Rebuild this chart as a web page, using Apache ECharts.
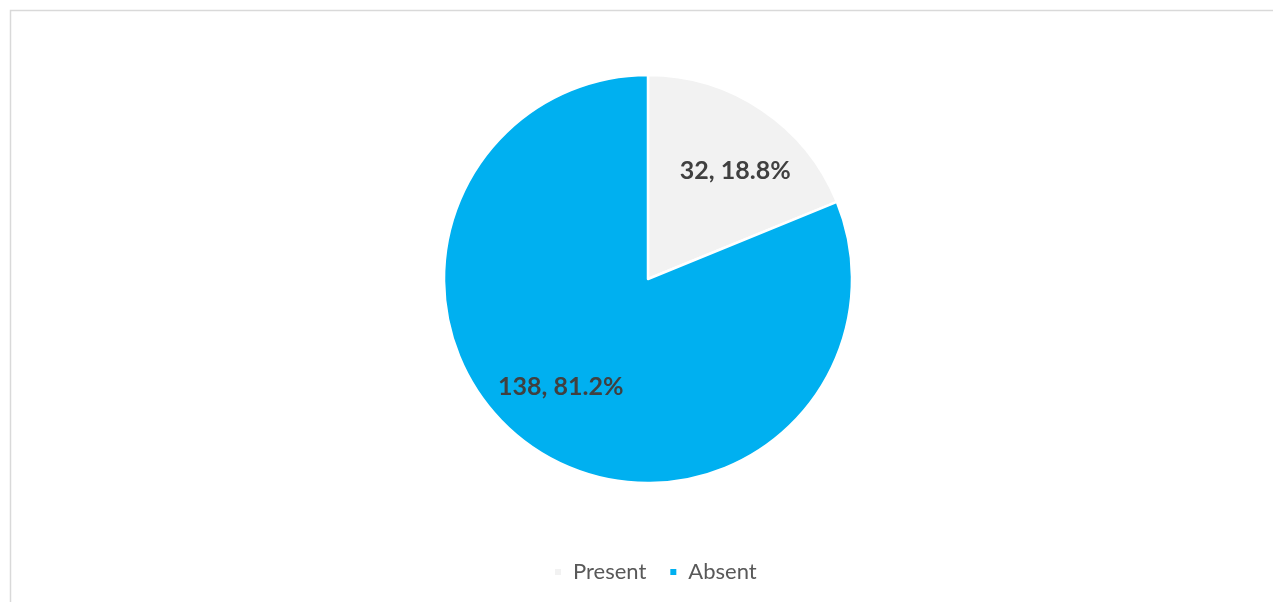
<!DOCTYPE html>
<html>
<head>
    <meta charset="utf-8">
    <title>Present / Absent</title>
    <script src="https://cdn.jsdelivr.net/npm/echarts@6/dist/echarts.min.js"></script>
    <style>
        html, body { margin: 0; padding: 0; background: #fff; }
        #chart { width: 1273px; height: 602px; }
    </style>
</head>
<body>
<div id="chart"></div>
<script type="text/javascript">
    // data
    var categories = ['Present', 'Absent'];
    var counts = [32, 138];
    var colors = ['#F2F2F2', '#00B0F0'];

    var pieData = [];
    for (var i = 0; i < categories.length; i++) {
        pieData.push({ name: categories[i], value: counts[i], itemStyle: { color: colors[i] } });
    }

    var myChart = echarts.init(document.getElementById('chart'));
    myChart.setOption({
        animation: false,
        color: colors,
        graphic: [{
            type: 'rect',
            shape: { x: 10.5, y: 10.5, width: 1400, height: 800 },
            style: { fill: 'none', stroke: '#D9D9D9', lineWidth: 1.5 },
            silent: true
        }],
        legend: {
            data: categories,
            bottom: 14,
            left: 548,
            icon: 'rect',
            itemWidth: 8,
            itemHeight: 8,
            itemGap: 22,
            textStyle: { fontFamily: 'Lato', fontSize: 22, color: '#595959', padding: [0, 0, 0, 6] }
        },
        series: [{
            // visible slices
            name: 'slices',
            type: 'pie',
            center: [648, 279],
            radius: [0, 204],
            startAngle: 90,
            clockwise: true,
            legendHoverLink: false,
            itemStyle: { borderColor: '#fff', borderWidth: 2.5 },
            label: { show: false },
            labelLine: { show: false },
            data: pieData
        }, {
            // invisible ring used only to place the labels like Excel's best fit
            name: 'labels',
            type: 'pie',
            center: [648, 279],
            radius: [0, 272],
            startAngle: 85,
            clockwise: true,
            silent: true,
            z: 3,
            itemStyle: { color: 'rgba(0,0,0,0)', borderWidth: 0 },
            label: {
                show: true,
                position: 'inner',
                formatter: function (p) { return p.value + ', ' + p.percent.toFixed(1) + '%'; },
                fontFamily: 'Lato',
                fontWeight: 'bold',
                fontSize: 25,
                color: '#404040'
            },
            labelLine: { show: false },
            data: pieData.map(function (d) { return { name: d.name, value: d.value }; })
        }]
    });
</script>
</body>
</html>
